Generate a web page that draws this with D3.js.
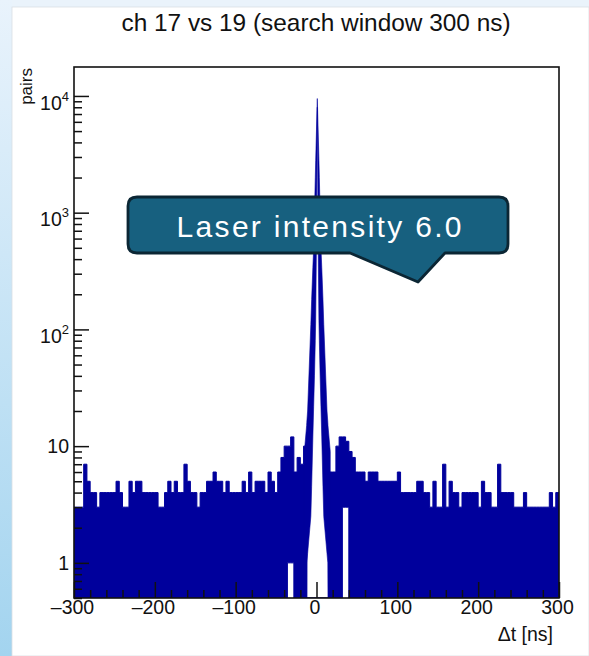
<!DOCTYPE html>
<meta charset="utf-8">
<style>
body { margin: 0; }
svg text { font-family: "Liberation Sans", Arial, sans-serif; }
</style>
<svg width="589" height="656"></svg>
<script src="https://d3js.org/d3.v7.min.js"></script>
<script>
// histogram: 4 ns bins from -300 to +300 ns, counts
// (bins under the central peak are left at 0, the peak is drawn from peakT/peakHi/peakLo)
var binStart = -300, binWidth = 4;
var counts = [
  3, 3, 3, 7, 5, 4, 4, 3, 4, 4,   4, 4, 4, 5, 4, 3, 3, 5, 4, 5,
  5, 4, 4, 4, 4, 4, 3, 3, 4, 5,   4, 5, 4, 4, 7, 5, 4, 4, 3, 4,
  4, 5, 5, 6, 5, 5, 4, 5, 4, 4,   4, 4, 5, 4, 6, 4, 5, 5, 5, 4,
  6, 5, 4, 6, 8, 10, 10, 12, 6, 8, 7, 10, 0, 0, 0, 0, 0, 0, 0, 6,
  6, 10, 12, 12, 11, 9, 8, 6, 6, 6, 5, 6, 6, 6, 5, 5, 5, 5, 5, 5,
  6, 4, 4, 4, 4, 4, 5, 5, 4, 4,   3, 5, 3, 3, 7, 3, 5, 4, 4, 3,
  4, 4, 4, 4, 4, 3, 5, 4, 4, 3,   3, 7, 4, 4, 4, 4, 3, 3, 3, 4,
  3, 3, 3, 3, 3, 3, 3, 4, 3, 4
];
// bins whose fill does not reach down to the frame bottom
var floorBins = [66, 67, 83, 84];
var floorCounts = [1, 1, 3, 3];

// central coincidence peak (ns, upper edge, lower edge of the filled band)
var peakT  = [-15, -12.2, -12, -11, -7, -6, -4.5, -3.5, -2.5, -1.5, -1, 0, 1, 2, 3, 3.5, 4.5, 5.5, 6.5, 8, 9, 13, 14, 14.2, 17];
var peakHi = [9, 15, 16, 20, 110, 180, 340, 500, 1000, 2000, 2800, 5200, 9500, 5200, 2800, 2000, 1000, 500, 340, 180, 110, 20, 16, 15, 9];
var peakLo = [0, 0, 1, 1.2, 2.5, 4.5, 12, 22, 40, 80, 120, 600, 8000, 600, 120, 80, 40, 22, 12, 4.5, 2.5, 1.2, 1, 0, 0];

var xTicks = [-300, -200, -100, 0, 100, 200, 300];
var yTicks = [1, 10, 100, 1000, 10000];

var histColor = "#00009c";
var labelFont = "Liberation Sans, Arial, sans-serif";

var svg = d3.select("svg");

// page background (slide look)
var defs = svg.append("defs");
var grad = defs.append("linearGradient").attr("id", "side")
    .attr("x1", 0).attr("y1", 0).attr("x2", 0).attr("y2", 1);
grad.append("stop").attr("offset", 0).attr("stop-color", "#e9f3fc");
grad.append("stop").attr("offset", 1).attr("stop-color", "#a3d4ef");
svg.append("rect").attr("width", 589).attr("height", 656).attr("fill", "#eaf3fb");
svg.append("rect").attr("width", 12).attr("height", 656).attr("fill", "url(#side)");
svg.append("rect").attr("x", 12).attr("y", 7).attr("width", 577).attr("height", 649)
    .attr("fill", "#fff").attr("stroke", "#d9dee3").attr("stroke-width", 0.8);

var x = d3.scaleLinear().domain([-300, 300]).range([74, 559]);
var y = d3.scaleLog().domain([0.5, 17700]).range([598, 67]);
var yv = function(v) { return y(Math.max(v, 0.5)); };

defs.append("clipPath").attr("id", "plot")
  .append("rect").attr("x", 74).attr("y", 67).attr("width", 485).attr("height", 531);

// bins -> step points
var bins = counts.map(function(c, i) {
  var k = floorBins.indexOf(i);
  return {t: binStart + i * binWidth, hi: c, lo: k < 0 ? 0 : floorCounts[k]};
});
bins.push({t: binStart + counts.length * binWidth, hi: counts[counts.length - 1], lo: 0});

var histArea = d3.area()
    .curve(d3.curveStepAfter)
    .x(function(d) { return x(d.t); })
    .y0(function(d) { return yv(d.lo); })
    .y1(function(d) { return yv(d.hi); });

var plot = svg.append("g").attr("clip-path", "url(#plot)");
plot.append("path").datum(bins)
    .attr("d", histArea)
    .attr("fill", histColor).attr("stroke", histColor).attr("stroke-width", 1);

var peak = peakT.map(function(t, i) { return {t: t, hi: peakHi[i], lo: peakLo[i]}; });
var peakArea = d3.area()
    .x(function(d) { return x(d.t); })
    .y0(function(d) { return yv(d.lo); })
    .y1(function(d) { return yv(d.hi); });
plot.append("path").datum(peak)
    .attr("d", peakArea)
    .attr("fill", histColor).attr("stroke", histColor).attr("stroke-width", 0.6);

// axes
var xMinor = d3.range(-300, 301, 20).filter(function(v) { return v % 100 !== 0; });
var yMinor = [];
[0.1, 1, 10, 100, 1000].forEach(function(dec) {
  for (var m = 2; m <= 9; m++) {
    var v = m * dec;
    if (v >= 0.5 && v <= 17700) yMinor.push(v);
  }
});

function styleAxis(g) {
  g.select(".domain").remove();
  g.selectAll(".tick line").attr("stroke", "#111").attr("stroke-width", 1.5);
}

svg.append("g").attr("transform", "translate(0,598)")
    .call(d3.axisBottom(x).tickValues(xMinor).tickSizeInner(-8).tickSizeOuter(0).tickFormat(""))
    .call(styleAxis);
var xAx = svg.append("g").attr("transform", "translate(0,598)")
    .call(d3.axisBottom(x).tickValues(xTicks).tickSizeInner(-16).tickSizeOuter(0).tickPadding(2)
      .tickFormat(function(d) { return d < 0 ? "\u2013" + Math.abs(d) : d; }))
    .call(styleAxis);
xAx.selectAll(".tick text")
    .attr("font-family", labelFont)
    .attr("font-size", 19.5).attr("fill", "#111").attr("dx", -2);

svg.append("g").attr("transform", "translate(74,0)")
    .call(d3.axisLeft(y).tickValues(yMinor).tickSizeInner(-8).tickSizeOuter(0).tickFormat(""))
    .call(styleAxis);
var yAx = svg.append("g").attr("transform", "translate(74,0)")
    .call(d3.axisLeft(y).tickValues(yTicks).tickSizeInner(-15).tickSizeOuter(0).tickPadding(5)
      .tickFormat(function(d) { return d; }))
    .call(styleAxis);
yAx.selectAll(".tick text")
    .attr("font-family", labelFont)
    .attr("font-size", 19.5).attr("fill", "#111")
    .each(function(d) {
      if (d >= 100) {
        var t = d3.select(this);
        t.text("10").attr("dy", "0.68em");
        t.append("tspan").attr("dy", -9).attr("font-size", 13).text(Math.round(Math.log10(d)));
      }
    });

// frame
svg.append("rect").attr("x", 74).attr("y", 67).attr("width", 485).attr("height", 531)
    .attr("fill", "none").attr("stroke", "#111").attr("stroke-width", 1.6);

// titles
svg.append("text").attr("x", 316).attr("y", 31).attr("text-anchor", "middle")
    .attr("font-size", 24.4).attr("fill", "#111")
    .text("ch 17 vs 19 (search window 300 ns)");
svg.append("text").attr("x", 553).attr("y", 641).attr("text-anchor", "end")
    .attr("font-size", 19.5).attr("fill", "#111")
    .text("\u0394t [ns]");
svg.append("text").attr("transform", "translate(32,68) rotate(-90)").attr("text-anchor", "end")
    .attr("font-size", 17).attr("fill", "#111")
    .text("pairs");

// callout
var callout = svg.append("g");
callout.append("path")
    .attr("d", "M137,197 H499 Q508,197 508,206 V244 Q508,253 499,253 H445 L418,282 L350,253 H137 Q128,253 128,244 V206 Q128,197 137,197 Z")
    .attr("fill", "#17607f").attr("stroke", "#0b2634").attr("stroke-width", 2.8)
    .attr("stroke-linejoin", "round");
callout.append("text").attr("x", 319 + 1.2).attr("y", 237).attr("text-anchor", "middle")
    .attr("font-family", "Noto Sans, Open Sans, sans-serif")
    .attr("font-size", 30).attr("letter-spacing", 2.3).attr("fill", "#fff")
    .text("Laser intensity 6.0");
</script>
